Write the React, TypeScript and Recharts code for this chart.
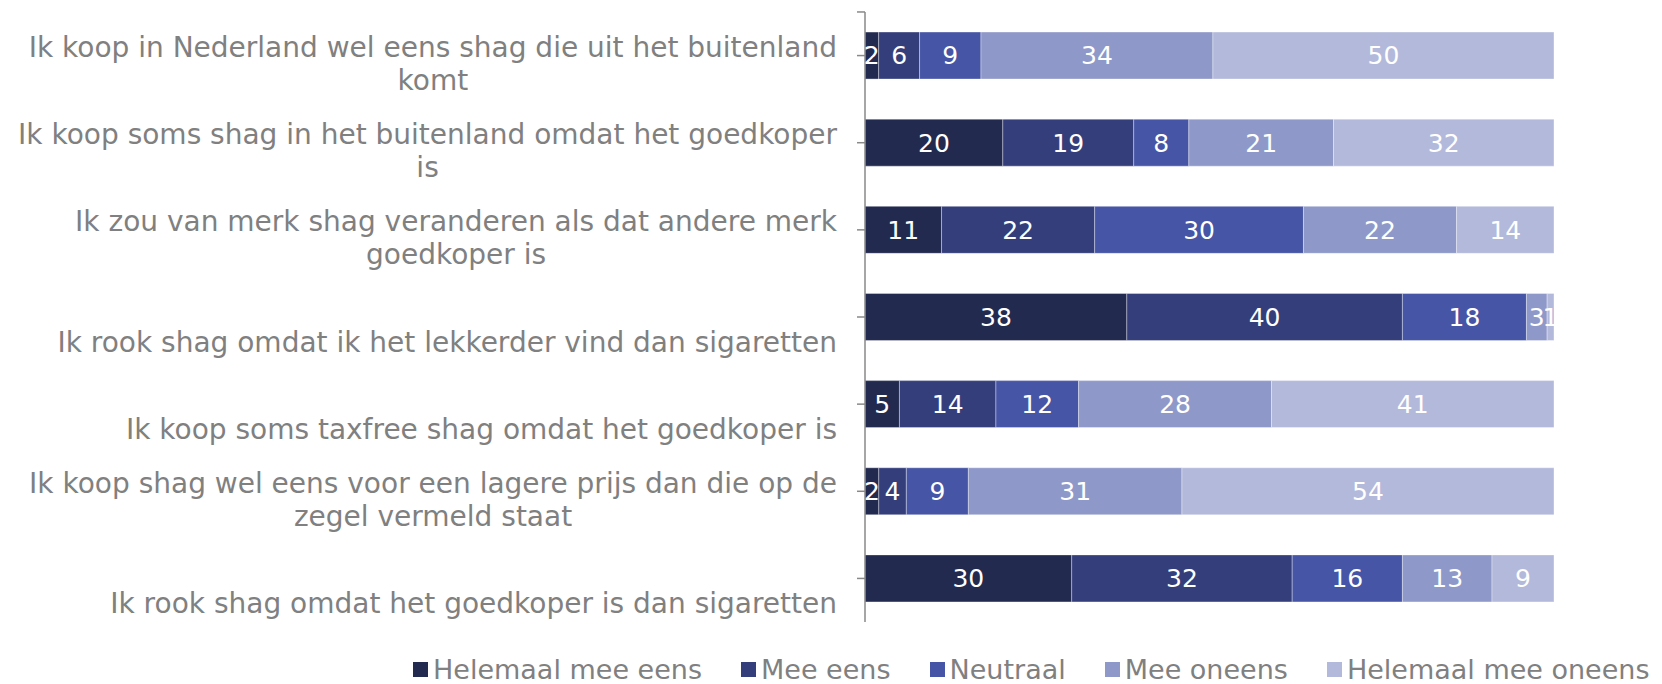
import { Bar, BarChart, LabelList, Legend, XAxis, YAxis } from 'recharts';

// statements, top to bottom (line breaks as in the source chart)
const statements = [
  'Ik koop in Nederland wel eens shag die uit het buitenland\nkomt',
  'Ik koop soms shag in het buitenland omdat het goedkoper\nis',
  'Ik zou van merk shag veranderen als dat andere merk\ngoedkoper is',
  'Ik rook shag omdat ik het lekkerder vind dan sigaretten',
  'Ik koop soms taxfree shag omdat het goedkoper is',
  'Ik koop shag wel eens voor een lagere prijs dan die op de\nzegel vermeld staat',
  'Ik rook shag omdat het goedkoper is dan sigaretten',
];

const helemaalMeeEens = [2, 20, 11, 38, 5, 2, 30];
const meeEens = [6, 19, 22, 40, 14, 4, 32];
const neutraal = [9, 8, 30, 18, 12, 9, 16];
const meeOneens = [34, 21, 22, 3, 28, 31, 13];
const helemaalMeeOneens = [50, 32, 14, 1, 41, 54, 9];

const series = [
  { key: 'hme', name: 'Helemaal mee eens', color: '#222a50' },
  { key: 'me', name: 'Mee eens', color: '#343e7b' },
  { key: 'neu', name: 'Neutraal', color: '#4655a6' },
  { key: 'mo', name: 'Mee oneens', color: '#8f99c9' },
  { key: 'hmo', name: 'Helemaal mee oneens', color: '#b3b9db' },
];

const data = statements.map((s, i) => ({
  name: s,
  hme: helemaalMeeEens[i],
  me: meeEens[i],
  neu: neutraal[i],
  mo: meeOneens[i],
  hmo: helemaalMeeOneens[i],
}));

const FONT = '"DejaVu Sans", sans-serif';
const GREY = '#808080';
const LABEL_SIZE = 28;

let ctx: CanvasRenderingContext2D | null = null;
function textWidth(s: string) {
  if (!ctx) ctx = document.createElement('canvas').getContext('2d');
  if (!ctx) return s.length * LABEL_SIZE * 0.55;
  ctx.font = `${LABEL_SIZE}px "DejaVu Sans"`;
  return ctx.measureText(s).width;
}

function StatementTick({ x, y, payload, index }: any) {
  const lines = String(payload.value).split('\n');
  const n = lines.length;
  // block is right aligned, lines centred inside it
  const blockW = Math.max(...lines.map(textWidth));
  const cx = x - blockW / 2;
  return (
    <g>
      {index === 0 && <line x1={x + 20} x2={x + 28} y1={y - 43.6} y2={y - 43.6} stroke="#898989" strokeWidth={1.5} />}
      {lines.map((ln, i) => (
        <text
          key={i}
          x={cx}
          y={y + 25 - (n - 1 - i) * 33}
          textAnchor="middle"
          dominantBaseline="central"
          fill={GREY}
          fontSize={LABEL_SIZE}
          fontFamily={FONT}
        >
          {ln}
        </text>
      ))}
    </g>
  );
}

function LegendContent() {
  return (
    <div style={{ display: 'flex', alignItems: 'center', gap: 39, fontFamily: FONT, fontSize: 27, color: GREY, whiteSpace: 'nowrap' }}>
      {series.map((s) => (
        <div key={s.key} style={{ display: 'flex', alignItems: 'center' }}>
          <span style={{ width: 15, height: 15, background: s.color, marginRight: 5, display: 'inline-block' }} />
          <span>{s.name}</span>
        </div>
      ))}
    </div>
  );
}

export default function App() {
  return (
    <div style={{ position: 'absolute', left: 0, top: 0, width: 1662, height: 684, background: '#fff' }}>
      <BarChart
        width={1662}
        height={684}
        data={data}
        layout="vertical"
        stackOffset="expand"
        barCategoryGap="23%"
        margin={{ top: 12, right: 108, bottom: 28, left: 0 }}
      >
        <XAxis type="number" hide domain={[0, 1]} />
        <YAxis
          type="category"
          dataKey="name"
          width={865}
          tick={<StatementTick />}
          tickSize={8}
          tickMargin={20}
          axisLine={{ stroke: '#898989', strokeWidth: 1.5 }}
          tickLine={{ stroke: '#898989', strokeWidth: 1.5 }}
          interval={0}
        />
        <Legend
          verticalAlign="bottom"
          content={<LegendContent />}
          wrapperStyle={{ left: 413, bottom: -4, width: 'auto', height: 34 }}
        />
        {series.map((s) => (
          <Bar
            key={s.key}
            dataKey={s.key}
            name={s.name}
            stackId="a"
            fill={s.color}
            stroke="#ffffff"
            strokeOpacity={0.35}
            strokeWidth={1}
            isAnimationActive={false}
          >
            <LabelList dataKey={s.key} position="center" fill="#ffffff" fontSize={25} fontFamily={FONT} />
          </Bar>
        ))}
      </BarChart>
    </div>
  );
}
